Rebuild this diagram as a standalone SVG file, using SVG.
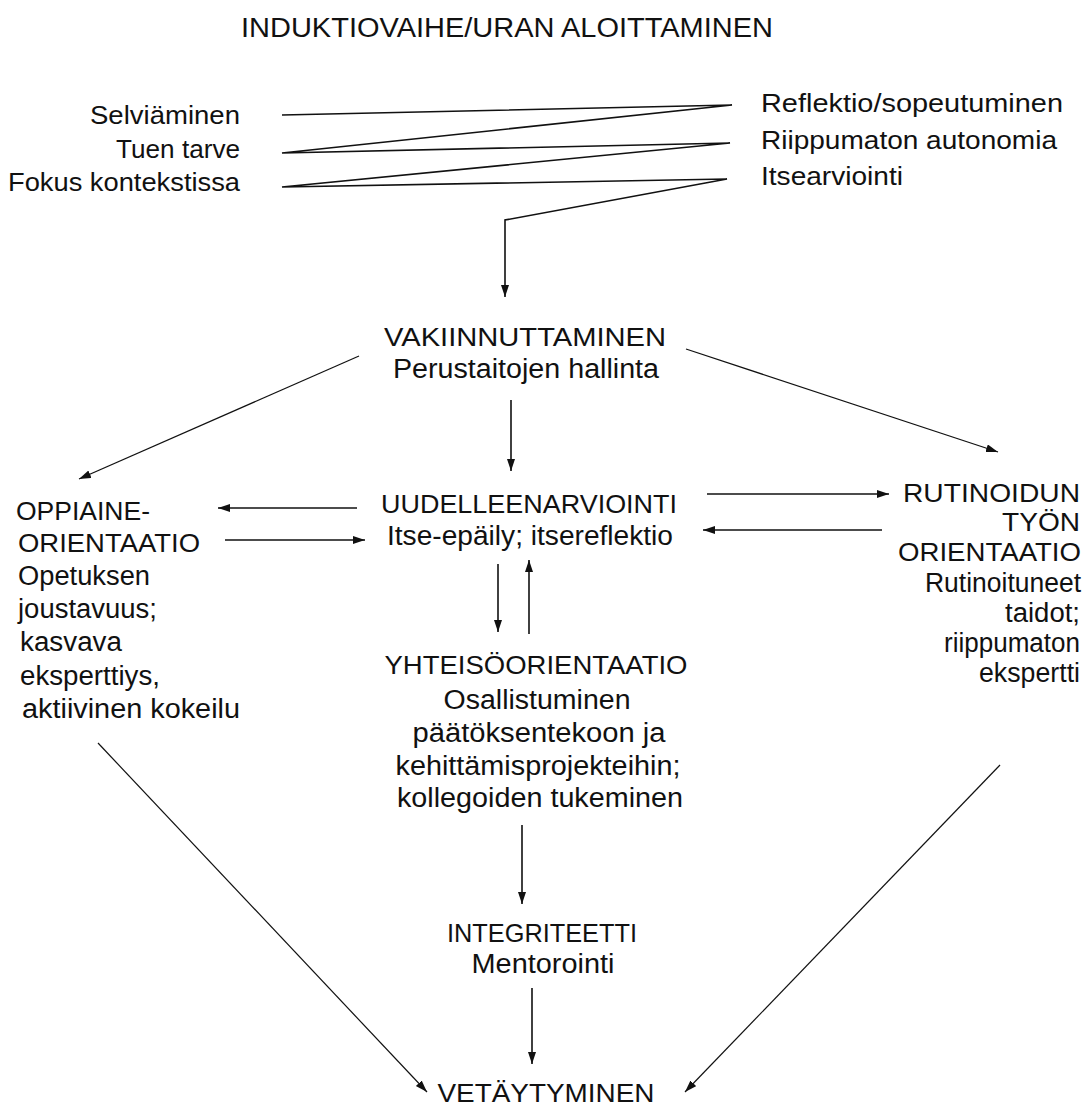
<svg xmlns="http://www.w3.org/2000/svg" width="1090" height="1109" viewBox="0 0 1090 1109">
  <style>
    text { font-family: "Liberation Sans", "DejaVu Sans", sans-serif; font-size: 27px; fill: #111; }
    .top { font-size: 26px; }
    .cap { font-size: 26px; }
    .mid { text-anchor: middle; }
    .end { text-anchor: end; }
    .ln { fill: none; stroke: #111; stroke-width: 1.6; }
    .thin { fill: none; stroke: #111; stroke-width: 1.2; }
  </style>
  <defs>
    <marker id="ah" markerUnits="userSpaceOnUse" markerWidth="14" markerHeight="10" refX="12" refY="4" orient="auto">
      <path d="M0,0 L12,4 L0,8 z" fill="#111"/>
    </marker>
  </defs>
  <rect width="1090" height="1109" fill="#fff"/>

  <g id="title">
    <text class="mid" x="507" y="37" font-size="29" textLength="532" lengthAdjust="spacingAndGlyphs">INDUKTIOVAIHE/URAN ALOITTAMINEN</text>
  </g>

  <g id="induction-left">
    <text class="end top" x="240" y="124" textLength="150" lengthAdjust="spacingAndGlyphs">Selviäminen</text>
    <text class="end top" x="240" y="158" textLength="124" lengthAdjust="spacingAndGlyphs">Tuen tarve</text>
    <text class="end top" x="240" y="191" textLength="232" lengthAdjust="spacingAndGlyphs">Fokus kontekstissa</text>
  </g>

  <g id="induction-right">
    <text class="top" x="761" y="112" textLength="302" lengthAdjust="spacingAndGlyphs">Reflektio/sopeutuminen</text>
    <text class="top" x="761" y="149" textLength="296" lengthAdjust="spacingAndGlyphs">Riippumaton autonomia</text>
    <text class="top" x="761" y="185" textLength="142" lengthAdjust="spacingAndGlyphs">Itsearviointi</text>
  </g>

  <g id="vakiinnuttaminen">
    <text class="mid cap" x="525" y="346" textLength="282" lengthAdjust="spacingAndGlyphs">VAKIINNUTTAMINEN</text>
    <text class="mid" x="526" y="378" textLength="266" lengthAdjust="spacingAndGlyphs">Perustaitojen hallinta</text>
  </g>

  <g id="uudelleenarviointi">
    <text class="mid cap" x="529" y="513" textLength="296" lengthAdjust="spacingAndGlyphs">UUDELLEENARVIOINTI</text>
    <text class="mid" x="530" y="545" textLength="286" lengthAdjust="spacingAndGlyphs">Itse-epäily; itsereflektio</text>
  </g>

  <g id="oppiaineorientaatio">
    <text class="cap" x="16" y="520" textLength="134" lengthAdjust="spacingAndGlyphs">OPPIAINE-</text>
    <text class="cap" x="18" y="552" textLength="182" lengthAdjust="spacingAndGlyphs">ORIENTAATIO</text>
    <text x="18" y="585" textLength="132" lengthAdjust="spacingAndGlyphs">Opetuksen</text>
    <text x="18" y="618" textLength="139" lengthAdjust="spacingAndGlyphs">joustavuus;</text>
    <text x="20" y="651" textLength="102" lengthAdjust="spacingAndGlyphs">kasvava</text>
    <text x="20" y="685" textLength="140" lengthAdjust="spacingAndGlyphs">eksperttiys,</text>
    <text x="22" y="718" textLength="218" lengthAdjust="spacingAndGlyphs">aktiivinen kokeilu</text>
  </g>

  <g id="rutinoidun-tyon-orientaatio">
    <text class="end cap" x="1080" y="502" textLength="177" lengthAdjust="spacingAndGlyphs">RUTINOIDUN</text>
    <text class="end cap" x="1080" y="531" textLength="78" lengthAdjust="spacingAndGlyphs">TYÖN</text>
    <text class="end cap" x="1081" y="561" textLength="183" lengthAdjust="spacingAndGlyphs">ORIENTAATIO</text>
    <text class="end" x="1081" y="592" textLength="156" lengthAdjust="spacingAndGlyphs">Rutinoituneet</text>
    <text class="end" x="1080" y="622" textLength="75" lengthAdjust="spacingAndGlyphs">taidot;</text>
    <text class="end" x="1080" y="652" textLength="136" lengthAdjust="spacingAndGlyphs">riippumaton</text>
    <text class="end" x="1080" y="682" textLength="101" lengthAdjust="spacingAndGlyphs">ekspertti</text>
  </g>

  <g id="yhteisoorientaatio">
    <text class="mid cap" x="536" y="674" textLength="303" lengthAdjust="spacingAndGlyphs">YHTEISÖORIENTAATIO</text>
    <text class="mid" x="537" y="709" textLength="187" lengthAdjust="spacingAndGlyphs">Osallistuminen</text>
    <text class="mid" x="539" y="742" textLength="253" lengthAdjust="spacingAndGlyphs">päätöksentekoon ja</text>
    <text class="mid" x="538" y="775" textLength="285" lengthAdjust="spacingAndGlyphs">kehittämisprojekteihin;</text>
    <text class="mid" x="540" y="807" textLength="286" lengthAdjust="spacingAndGlyphs">kollegoiden tukeminen</text>
  </g>

  <g id="integriteetti">
    <text class="mid cap" x="542" y="942" textLength="190" lengthAdjust="spacingAndGlyphs">INTEGRITEETTI</text>
    <text class="mid" x="543" y="973" textLength="143" lengthAdjust="spacingAndGlyphs">Mentorointi</text>
  </g>

  <g id="vetaytyminen">
    <text class="mid cap" x="546" y="1102" textLength="217" lengthAdjust="spacingAndGlyphs">VETÄYTYMINEN</text>
  </g>

  <g id="connectors">
    <!-- zigzag from the induction pairs down to consolidation -->
    <polyline class="ln" points="282,115 732,105 282,153 730,143 282,187 727,179 505,220 505,297" marker-end="url(#ah)"/>
    <line class="thin" x1="359" y1="356" x2="79" y2="479" marker-end="url(#ah)"/>
    <line class="ln" x1="511" y1="400" x2="511" y2="471" marker-end="url(#ah)"/>
    <line class="thin" x1="686" y1="349" x2="998" y2="452" marker-end="url(#ah)"/>
    <line class="ln" x1="357" y1="508" x2="218" y2="508" marker-end="url(#ah)"/>
    <line class="ln" x1="225" y1="540" x2="365" y2="540" marker-end="url(#ah)"/>
    <line class="ln" x1="707" y1="494" x2="889" y2="494" marker-end="url(#ah)"/>
    <line class="ln" x1="882" y1="530" x2="703" y2="530" marker-end="url(#ah)"/>
    <line class="ln" x1="498" y1="564" x2="498" y2="632" marker-end="url(#ah)"/>
    <line class="ln" x1="529" y1="634" x2="529" y2="560" marker-end="url(#ah)"/>
    <line class="ln" x1="522" y1="825" x2="522" y2="904" marker-end="url(#ah)"/>
    <line class="ln" x1="532" y1="988" x2="532" y2="1064" marker-end="url(#ah)"/>
    <line class="thin" x1="98" y1="743" x2="427" y2="1092" marker-end="url(#ah)"/>
    <line class="thin" x1="1000" y1="765" x2="685" y2="1092" marker-end="url(#ah)"/>
  </g>
</svg>
